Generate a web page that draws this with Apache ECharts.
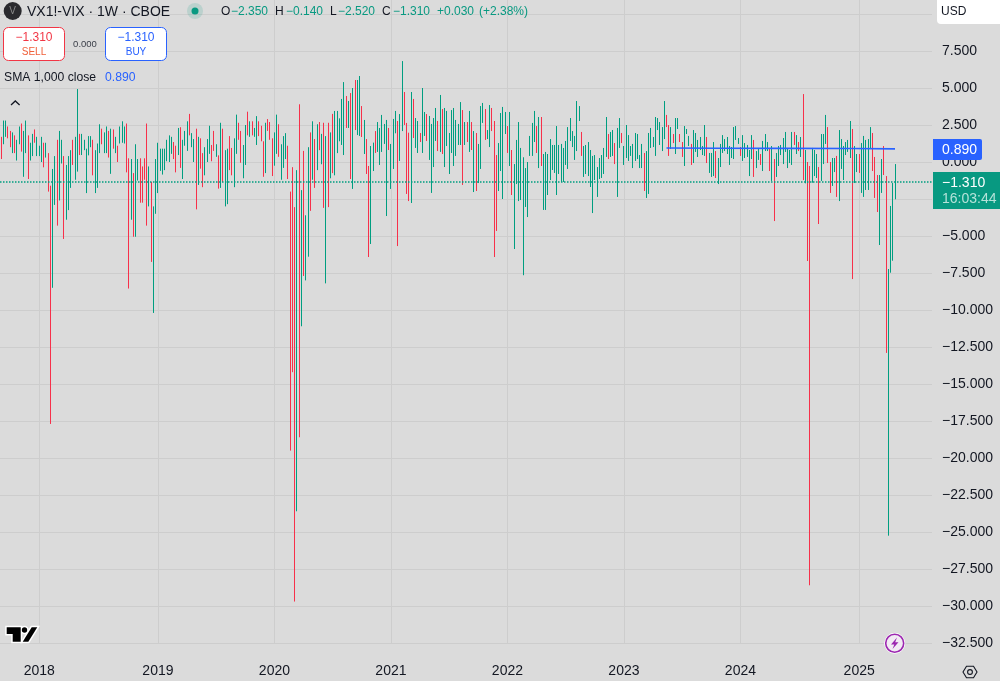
<!DOCTYPE html>
<html>
<head>
<meta charset="utf-8">
<title>VX1!-VIX</title>
<script src="https://cdn.jsdelivr.net/npm/echarts@6/dist/echarts.min.js"></script>
<style>
    html, body { margin: 0; padding: 0; background: #dbdbdb; }
    #chart { width: 1000px; height: 681px; }
</style>
</head>
<body>
<div id="chart"></div>
<script>
    // weekly high / low of the spread, 10 weeks a row
    const highs = [
        1.7,2.8,2.8,2.4,2.1,2.0,1.8,1.5,2.4,2.6,
        2.1,2.8,1.8,1.3,1.9,2.2,1.7,1.1,1.7,1.3,
        1.3,0.6,-1.6,-0.47,0.4,1.5,2.1,1.5,0.4,-0.2,
        0.4,0.8,1.5,1.7,4.93,1.9,1.9,1.5,0.9,1.75,
        1.75,1.5,0.8,1.25,2.55,2.25,2.0,2.4,2.1,2.25,
        2.2,1.7,1.1,2.4,2.75,2.4,2.6,0.25,0.2,-0.75,
        1.2,0.2,0.25,-0.3,0.25,2.6,-0.3,-1.35,-3.0,0.2,
        1.3,0.9,0.9,0.9,1.5,1.8,1.7,1.35,1.1,2.3,
        2.35,1.5,2.1,2.75,3.25,1.95,1.55,2.25,1.7,1.6,
        0.6,1.0,1.55,2.45,1.15,2.1,1.2,0.45,2.65,2.25,
        0.8,0.9,1.75,0.95,1.6,3.2,2.65,2.1,1.15,2.5,
        3.4,2.75,2.75,2.3,3.1,2.75,2.45,1.4,2.65,2.9,
        2.7,1.6,2.0,3.2,2.55,1.2,1.75,1.95,1.1,-2.0,
        -0.35,-3.05,-0.55,3.9,-1.9,0.75,-3.6,1.0,2.0,2.75,
        1.55,2.55,2.7,1.9,2.65,1.75,2.65,2.0,3.25,3.45,
        3.45,2.95,4.26,5.4,4.46,4.12,4.66,5.0,5.54,5.54,
        5.81,3.78,2.84,1.55,-0.27,1.08,1.31,2.09,2.7,2.3,
        3.18,2.57,2.84,2.3,1.22,2.91,3.45,2.77,3.24,6.82,
        4.73,2.64,1.98,4.73,4.26,2.97,2.77,1.96,5.0,3.38,
        3.24,3.11,2.57,2.97,3.65,2.77,4.53,3.58,3.65,3.45,
        1.96,3.51,3.65,2.84,2.57,4.05,3.51,2.7,2.7,3.45,
        2.7,2.09,1.96,1.22,3.78,3.99,3.58,2.16,3.85,3.65,
        2.77,0.47,1.28,3.31,3.72,3.38,2.43,3.38,0.81,-0.14,
        1.49,2.7,0.95,0.32,-0.41,0,1.76,2.64,3.45,2.43,
        3.04,3.04,0.54,0.68,0.54,1.55,1.15,1.15,2.43,1.15,
        1.22,0.95,1.42,2.36,2.97,2.09,1.76,4.12,3.78,2.03,
        1.08,1.15,1.35,0.81,0.41,0.47,-0.34,0.27,0.47,0.95,
        3.04,1.89,2.03,2.16,1.28,2.3,2.97,1.96,1.08,2.5,
        1.82,1.08,1.22,1.96,1.89,0.47,1.22,0.61,0.74,1.96,
        2.3,1.69,3.04,2.97,2.7,2.36,4.12,3.18,2.5,2.36,
        1.89,2.97,2.97,1.89,1.35,2.43,2.23,1.76,1.22,2.16,
        1.96,1.49,1.69,1.08,2.5,1.69,0.61,0.61,1.35,0.74,
        0.27,1.22,1.82,1.55,1.69,1.08,1.01,2.36,2.43,1.62,
        1.01,1.82,1.28,1.15,0.81,1.82,1.49,0.74,0.88,0.54,
        1.42,1.89,1.35,0.88,1.08,0.2,0.61,1.08,1.15,1.62,
        2.03,0.88,0.81,2.03,2.03,1.82,1.35,1.69,4.59,0.81,
        0,-0.27,0.95,0.81,0.54,-0.34,1.89,1.89,3.18,2.36,
        0,0.27,0.27,0.41,2.16,1.55,1.08,1.35,1.49,2.77,
        2.23,1.08,0.54,0.54,1.28,1.76,1.49,1.55,2.36,1.96,
        0.34,-0.88,-0.88,0.2,1.08,-0.95,-7.23,-2.97,-1.42,-0.14
    ];
    const lows = [
        0.2,1.2,1.7,1.6,1.0,0.6,0.6,0.1,1.2,0.7,
        -1.0,0.6,-1.15,0.1,0.4,1.3,0.4,0.4,0,-0.36,
        0.3,-2.0,-17.7,-8.5,-2.9,-4.3,-2.6,-0.1,-5.2,-3.9,
        -3.25,-1.75,-0.2,-1.2,-0.65,0.47,0.47,0.8,-2.1,0.45,
        1.0,-0.9,-2.1,-1.75,0.6,1.2,0.6,0.6,0.3,-0.8,
        0.9,0.6,0,1.25,1.3,1.25,-0.7,-8.55,-3.9,-5.05,
        -5.05,-1.25,-2.75,-2.75,-1.2,-4.3,-3.0,-6.75,-10.2,-3.5,
        -2.1,-0.6,-0.85,-0.55,0.05,0,0.55,0.2,-0.7,0.47,
        -0.4,-1.15,1.1,0.75,1.8,1.0,0,-3.2,-1.55,-0.45,
        -1.7,-0.9,0,0.55,0.05,0.75,0.35,-1.8,-1.75,-1.35,
        -3.0,-2.85,-0.55,-0.9,-1.7,0.55,1.5,-0.05,-1.1,-0.2,
        1.8,1.7,1.8,1.7,1.15,1.75,1.4,-1.0,-0.75,2.1,
        1.5,-0.95,-0.25,0.55,0.35,-1.2,-0.4,0.2,-1.15,-19.5,
        -14.2,-29.7,-23.6,-18.6,-11.1,-7.7,-8.0,-6.4,-3.3,-1.2,
        -1.75,-0.55,0.8,-0.15,-3.1,-8.2,-3.05,-1.1,-0.75,-0.9,
        0.6,1.4,1.15,0.47,2.3,2.3,-1.15,-1.82,2.16,1.82,
        1.76,1.69,0.54,-0.81,-6.42,-5.54,-0.61,0.61,0.68,-0.2,
        0.68,1.22,-3.65,0.81,-1.82,-0.47,1.94,-5.68,0.07,2.09,
        2.5,-2.16,-2.64,-2.77,1.62,0.95,0.61,1.35,0.61,1.76,
        1.42,0.14,-2.09,-0.34,1.42,0.74,0.68,0.54,-0.34,1.08,
        -0.81,0.61,-0.27,0.41,1.15,1.15,-1.55,1.15,1.35,0.68,
        0.81,-2.03,-1.96,-1.42,-0.47,2.64,1.49,1.55,1.01,2.09,
        -6.42,-4.66,-1.96,-0.61,-2.5,1.89,0.61,-0.27,-2.23,-5.88,
        -1.49,-2.64,-2.57,-7.65,-3.04,-3.72,0.41,0.41,1.35,0.61,
        -0.41,-0.27,-3.24,-3.24,-2.23,-1.22,-0.54,-0.74,-2.23,-0.81,
        -1.35,-1.35,-0.2,-0.47,1.42,1.01,0.14,0.74,2.77,0.41,
        -1.01,-0.81,-0.95,-1.69,-3.45,-1.22,-2.36,-1.15,-1.08,-0.81,
        0.34,0.2,0.34,0.41,-0.14,-2.36,0.95,1.28,-0.2,0.27,
        0.07,0.41,-0.41,0.07,0.2,-0.41,-0.41,-1.96,-2.43,-2.16,
        0.95,1.01,0.41,2.16,1.15,0.74,1.55,2.36,0.41,0.88,
        1.28,0.54,2.23,1.35,0.34,-0.27,1.89,1.08,-0.2,-0.07,
        0.68,0.34,0.81,0.47,0.41,-0.07,-0.74,-1.01,-0.95,-1.08,
        -1.49,-0.34,0.61,0.74,0.54,-0.2,0.27,0.2,1.49,1.22,
        0.41,0.07,0.27,0.34,-0.95,0.2,-1.01,-0.41,0.14,-0.2,
        -0.61,0.74,0.74,-0.61,-1.28,-3.99,-1.01,-0.27,0.47,-0.14,
        0.68,-0.41,-0.07,-0.2,1.15,0.54,0.74,0.34,-1.22,-1.44,
        -6.69,-28.6,-1.4,-0.95,-1.08,-4.19,-1.28,-0.14,1.22,-0.07,
        -2.09,-1.62,-0.68,-2.36,-2.64,-0.47,-1.22,0.47,0.68,0.27,
        -7.91,-1.42,-0.68,-0.74,-2.09,-2.36,-1.89,-1.89,0.88,-0.61,
        -2.43,-3.38,-5.61,-2.09,-0.88,-12.9,-25.25,-7.48,-6.67,-2.52
    ];
    // t = teal, r = red, one letter per week
    const barDirs = [
        'rttrrtrttr','ttrttrtttr','trrttrttrt','ttrttrtttt','trtttrttrt',
        'rtrtttrrtr','ttrrrrtrtt','tttttttrrt','rtttrttrtr','rtttrrtrtr',
        'ttrrttrrtt','rtrttrrrtr','rrttrtttrr','rrtrtrttrt','rtrtrtrtrt',
        'ttttrtrtrt','trtrrttrtt','tttrtttrtt','rrrtrttrtt','rttttrtrtt',
        'ttttttrtrt','rtrtttrttr','rrttttrtrt','tttttttttr','trtttttttt',
        'tttttttttr','tttttttttt','trttrttrtt','tttttttrtt','tttttttrrt',
        'rttrrtttrt','tttttrtttr','tttttttttt','rtttttrttr','tttrtrtttt',
        'ttttrtrtrt','rrtttrtttr','rttrtttttt','rttrtttttr','rrttrrtttt'
    ].join('');

    const firstWeek = '2017-09-04';
    const weekCount = 416;  // the axis runs on past the last bar
    const yearStarts = ['2018-01-01','2019-01-07','2020-01-06','2021-01-04','2022-01-03','2023-01-02','2024-01-01','2025-01-06'];
    const yearLabels = ['2018','2019','2020','2021','2022','2023','2024','2025'];

    const smaWeeks = ['2023-05-15','2023-10-23','2024-05-20','2024-12-16','2025-04-28'];
    const smaValues = [0.95,0.93,0.92,0.91,0.89];
    const lastClose = -1.31;

    const teal = '#089981', red = '#f23645', blue = '#2962ff';
    const barTeal = '#009e80', barRed = '#f7304a';
    const gridColor = '#cdcdcd';
    const font = '"Liberation Sans", sans-serif';

    const weeks = [];
    for (let i = 0, t = Date.parse(firstWeek + 'T00:00:00Z'); i < weekCount; i++, t += 7 * 864e5) {
        weeks.push(new Date(t).toISOString().slice(0, 10));
    }
    const isYearStart = (i, v) => yearStarts.includes(v);

    function drawBar(params, api) {
        const i = api.value(0);
        const top = api.coord([i, api.value(1)]);
        const bottom = api.coord([i, api.value(2)]);
        // snap to a whole pixel, otherwise the bars smear together
        const x = Math.floor(top[0]) + 0.5;
        return {
            type: 'line',
            shape: { x1: x, y1: top[1], x2: x, y2: bottom[1] },
            style: { stroke: barDirs[i] === 'r' ? barRed : barTeal, lineWidth: 1 }
        };
    }

    function txt(x, y, text, fill, size, extra) {
        return {
            type: 'text', x: x, y: y, z: 20,
            style: Object.assign({ text: text, fill: fill, font: size + 'px ' + font, verticalAlign: 'middle' }, extra || {})
        };
    }
    function box(x, y, w, h, fill, stroke, r) {
        return {
            type: 'rect', z: 15,
            shape: { x: x, y: y, width: w, height: h, r: r },
            style: { fill: fill, stroke: stroke, lineWidth: 1 }
        };
    }

    const dark = '#131722';
    const headerItems = [
        { type: 'circle', z: 15, shape: { cx: 12.7, cy: 11, r: 9 }, style: { fill: '#2a2a2e' } },
        txt(12.7, 11.5, 'V', '#8a8a8a', 10, { align: 'center' }),
        txt(27, 12, 'VX1!-VIX · 1W · CBOE', dark, 14),
        { type: 'circle', z: 15, shape: { cx: 195, cy: 11, r: 8 }, style: { fill: 'rgba(8,153,129,0.15)' } },
        { type: 'circle', z: 16, shape: { cx: 195, cy: 11, r: 3.5 }, style: { fill: teal } },
        txt(221, 12, 'O', dark, 12), txt(231, 12, '−2.350', teal, 12),
        txt(275, 12, 'H', dark, 12), txt(286, 12, '−0.140', teal, 12),
        txt(330, 12, 'L', dark, 12), txt(338, 12, '−2.520', teal, 12),
        txt(382, 12, 'C', dark, 12), txt(393, 12, '−1.310', teal, 12),
        txt(437, 12, '+0.030', teal, 12), txt(479, 12, '(+2.38%)', teal, 12),

        box(3.5, 27.5, 61, 33, '#ffffff', red, 5),
        txt(34, 38, '−1.310', red, 12, { align: 'center' }),
        txt(34, 52, 'SELL', '#f0603a', 10, { align: 'center' }),
        txt(85, 44.5, '0.000', '#3a3e48', 9.5, { align: 'center' }),
        box(105.5, 27.5, 61, 33, '#ffffff', blue, 5),
        txt(136, 38, '−1.310', blue, 12, { align: 'center' }),
        txt(136, 52, 'BUY', blue, 10, { align: 'center' }),

        txt(4, 77.5, 'SMA 1,000 close', dark, 12.2),
        txt(105, 77.5, '0.890', blue, 12.2),
        { type: 'polyline', z: 15, shape: { points: [[11, 105], [15.3, 101], [19.6, 105]] }, style: { stroke: dark, lineWidth: 1.3, fill: null } }
    ];

    const priceItems = [
        { type: 'rect', z: 15, shape: { x: 937, y: 0, width: 63, height: 24, r: [0, 0, 0, 4] }, style: { fill: '#ffffff' } },
        txt(941, 12, 'USD', dark, 12),
        { type: 'rect', z: 15, shape: { x: 933, y: 139, width: 49, height: 21, r: [0, 2, 2, 0] }, style: { fill: blue } },
        txt(942, 150, '0.890', '#ffffff', 14),
        { type: 'rect', z: 15, shape: { x: 933, y: 172, width: 67, height: 37 }, style: { fill: teal } },
        txt(942, 183, '−1.310', '#ffffff', 14),
        txt(942, 199, '16:03:44', '#b5e2d9', 14)
    ];

    const logoT = [[6.7, 627.3], [20.7, 627.3], [20.7, 641.7], [12.7, 641.7], [12.7, 634], [6.7, 634]];
    const logoSlash = [[31.7, 627.3], [37.3, 627.3], [28.3, 641.7], [22.7, 641.7]];
    const iconItems = [
        // logo in the corner: white halo first, black on top
        { type: 'polygon', z: 15, shape: { points: logoT }, style: { fill: '#fff', stroke: '#fff', lineWidth: 3 } },
        { type: 'circle', z: 15, shape: { cx: 24.5, cy: 630, r: 2.7 }, style: { fill: '#fff', stroke: '#fff', lineWidth: 3 } },
        { type: 'polygon', z: 15, shape: { points: logoSlash }, style: { fill: '#fff', stroke: '#fff', lineWidth: 3 } },
        { type: 'polygon', z: 16, shape: { points: logoT }, style: { fill: '#000' } },
        { type: 'circle', z: 16, shape: { cx: 24.5, cy: 630, r: 2.7 }, style: { fill: '#000' } },
        { type: 'polygon', z: 16, shape: { points: logoSlash }, style: { fill: '#000' } },
        // bolt badge
        { type: 'circle', z: 15, shape: { cx: 894.7, cy: 643.3, r: 10.5 }, style: { fill: '#ffffff' } },
        { type: 'circle', z: 16, shape: { cx: 894.7, cy: 643.3, r: 9 }, style: { fill: '#f2eaf4', stroke: '#9c27b0', lineWidth: 1.6 } },
        { type: 'polygon', z: 17, shape: { points: [[897, 637.5], [891, 644.5], [894.3, 644.5], [892.5, 649], [898.5, 642.3], [895.2, 642.3]] }, style: { fill: '#9c27b0' } },
        // settings hexagon
        { type: 'polygon', z: 15, shape: { points: [[963, 672], [966.5, 666.3], [973.5, 666.3], [977, 672], [973.5, 677.7], [966.5, 677.7]] }, style: { fill: 'none', stroke: dark, lineWidth: 1.1 } },
        { type: 'circle', z: 15, shape: { cx: 970, cy: 672, r: 2.4 }, style: { fill: 'none', stroke: dark, lineWidth: 1.1 } }
    ];

    const chart = echarts.init(document.getElementById('chart'), null, { renderer: 'canvas' });
    chart.setOption({
        animation: false,
        backgroundColor: '#dbdbdb',
        // top edge sits above the window so the 12.5 row is out of sight
        grid: { left: 0, right: 68, top: -23, bottom: 38, outerBoundsMode: 'none' },
        xAxis: {
            type: 'category',
            data: weeks,
            boundaryGap: true,
            axisLine: { show: false },
            axisTick: { show: true, interval: isYearStart, alignWithLabel: true, length: 13, lineStyle: { color: gridColor } },
            splitLine: { show: true, interval: isYearStart, alignWithLabel: true, lineStyle: { color: gridColor } },
            axisLabel: {
                interval: isYearStart,
                margin: 21,
                color: dark,
                fontFamily: font,
                fontSize: 14,
                formatter: v => yearLabels[yearStarts.indexOf(v)]
            }
        },
        yAxis: {
            type: 'value',
            position: 'right',
            min: -32.5,
            max: 12.5,
            interval: 2.5,
            axisLine: { show: false },
            axisTick: { show: false },
            splitLine: { lineStyle: { color: gridColor } },
            axisLabel: {
                margin: 10,
                color: dark,
                fontFamily: font,
                fontSize: 14,
                formatter: v => v > 7.5 ? '' : v.toFixed(3).replace('-', '−')
            }
        },
        series: [
            {
                type: 'custom',
                renderItem: drawBar,
                encode: { x: 0, y: [1, 2] },
                data: highs.map((h, i) => [i, h, lows[i]]),
                z: 3
            },
            {
                type: 'line',
                data: smaWeeks.map((w, i) => [weeks.indexOf(w), smaValues[i]]),
                showSymbol: false,
                lineStyle: { color: blue, width: 1.6 },
                z: 4,
                markLine: {
                    silent: true,
                    symbol: 'none',
                    label: { show: false },
                    lineStyle: { color: barTeal, type: [1.5, 1.5], width: 1.5 },
                    data: [{ yAxis: lastClose }]
                }
            }
        ],
        graphic: { elements: headerItems.concat(priceItems, iconItems) }
    });
</script>
</body>
</html>
